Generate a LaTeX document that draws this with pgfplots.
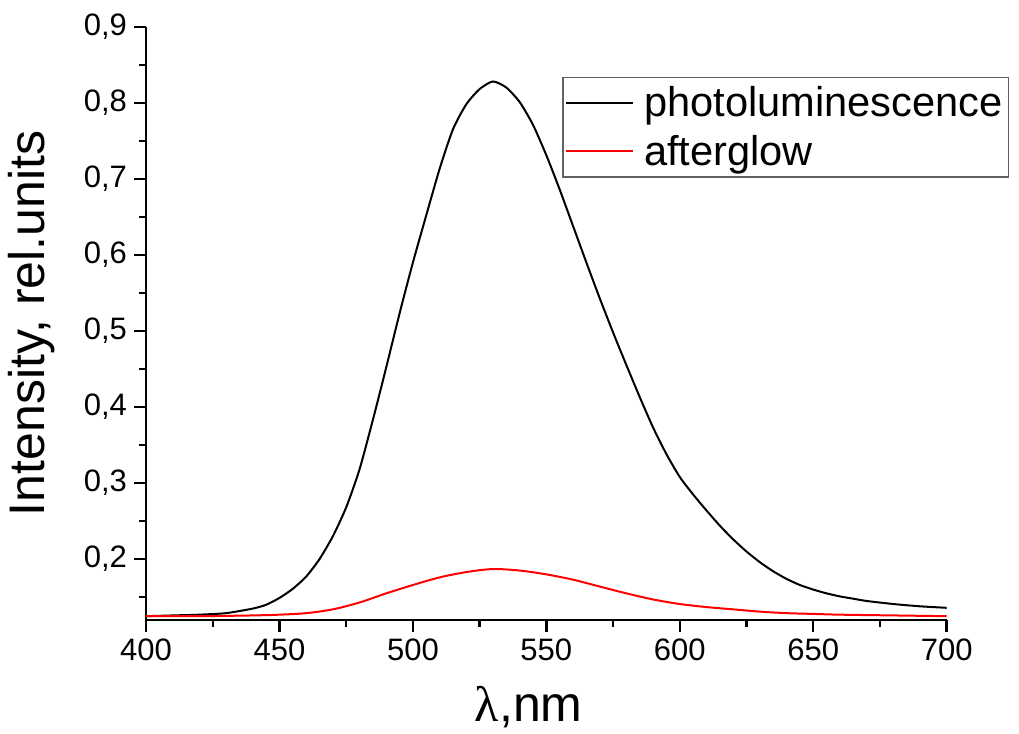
\documentclass[border=0pt]{standalone}
\usepackage{pgfplots}
\pgfplotsset{compat=1.18}
\usepackage{fontspec}
\setmainfont{Liberation Sans}
\newfontfamily\serifgr{Liberation Serif}
\begin{document}
\begin{tikzpicture}
\path[use as bounding box] (0,0) rectangle (509.5pt,367pt);
\begin{axis}[
  at={(73pt,57pt)}, anchor=south west,
  scale only axis, width=400.35pt, height=296.65pt,
  xmin=400, xmax=700, ymin=0.12, ymax=0.9,
  axis lines*=left,
  axis line style={line width=1.2pt},
  every tick/.style={black, line width=1.2pt},
  tick align=outside,
  major tick length=6pt, minor tick length=3.5pt,
  xtick={400,450,500,550,600,650,700},
  minor xtick={425,475,525,575,625,675},
  ytick={0.2,0.3,0.4,0.5,0.6,0.7,0.8,0.9},
  minor ytick={0.15,0.25,0.35,0.45,0.55,0.65,0.75,0.85},
  xticklabel={\pgfmathprintnumber[fixed,precision=0,assume math mode=true]{\tick}},
  yticklabel={\pgfmathprintnumber[fixed,fixed zerofill,precision=1,use comma,assume math mode=true]{\tick}},
  tick label style={font=\fontsize{15.5}{18}\selectfont},
  xlabel={{\serifgr λ},nm},
  ylabel={Intensity, rel.units},
  label style={font=\fontsize{25}{30}\selectfont},
  xlabel style={at={(axis description cs:0.478,-0.147)}, anchor=center},
  ylabel style={at={(axis description cs:-0.1424,0.5)}, anchor=center},
  legend style={at={(1.078,0.915)}, anchor=north east, draw=black!62, line width=0.6pt,
    font=\fontsize{20.8}{24}\selectfont, inner xsep=1pt, inner ysep=2.5pt, row sep=3.5pt,
    nodes={inner xsep=2pt},
    /tikz/every odd column/.append style={column sep=3pt}},
  legend cell align=left,
  legend image code/.code={\draw[#1, line width=1pt] (0pt,0pt) -- (33.5pt,0pt);},
]
\addplot[black, line width=1pt, smooth, tension=0.4] coordinates {
(400,0.125) (410,0.126) (420,0.127) (430,0.129) (440,0.135) (445,0.140)
(450,0.149) (455,0.161) (460,0.177) (465,0.200) (470,0.230) (475,0.268)
(480,0.318) (485,0.383) (490,0.452) (495,0.523) (500,0.590) (505,0.652)
(510,0.713) (515,0.765) (520,0.798) (525,0.818) (530,0.828) (535,0.820)
(540,0.801) (545,0.771) (550,0.731) (555,0.686) (560,0.638) (565,0.590)
(570,0.543) (575,0.498) (580,0.455) (585,0.413) (590,0.373) (595,0.338)
(600,0.308) (605,0.285) (610,0.264) (615,0.244) (620,0.226) (625,0.210)
(630,0.196) (635,0.184) (640,0.174) (645,0.166) (650,0.160) (655,0.155)
(660,0.151) (665,0.148) (670,0.145) (680,0.141) (690,0.138) (700,0.136)
};
\addlegendentry{photoluminescence}
\addplot[red, line width=1pt, smooth, tension=0.5] coordinates {
(400,0.125) (420,0.125) (440,0.126) (450,0.127) (460,0.129) (470,0.134)
(480,0.143) (490,0.155) (500,0.166) (510,0.176) (520,0.183) (530,0.187)
(540,0.185) (550,0.180) (560,0.173) (570,0.164) (580,0.155) (590,0.147)
(600,0.141) (610,0.137) (620,0.134) (630,0.131) (640,0.129) (650,0.128)
(660,0.127) (680,0.126) (700,0.125)
};
\addlegendentry{afterglow}
\end{axis}
\end{tikzpicture}
\end{document}
